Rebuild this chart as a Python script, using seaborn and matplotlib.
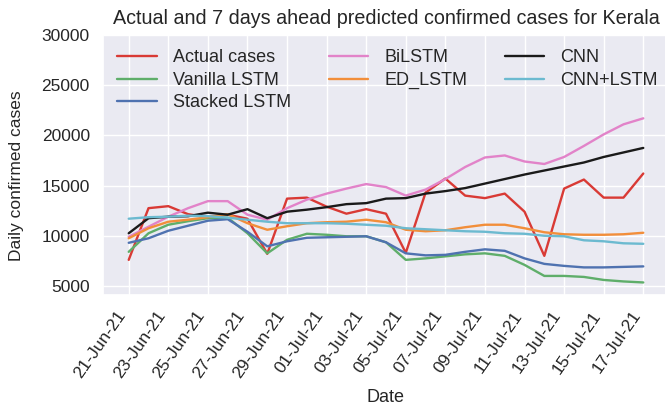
import matplotlib
matplotlib.use("Agg")
import matplotlib.pyplot as plt
import matplotlib.dates as mdates
import numpy as np
import pandas as pd
import seaborn as sns

dates = pd.date_range("2021-06-21", "2021-07-17", freq="D")

actual = [7600, 12750, 12950, 12150, 11850, 12100, 11700, 8200, 13700, 13800, 12900, 12200, 12650,
          12200, 8300, 14300, 15700, 14000, 13750, 14200, 12400, 8000, 14700, 15600, 13800, 13800, 16200]
vanilla = [8400, 10250, 11100, 11450, 11750, 11800, 10250, 8250, 9600, 10200, 10100, 9950, 9950,
           9350, 7600, 7750, 7950, 8150, 8250, 8000, 7100, 6000, 6000, 5900, 5600, 5450, 5350]
stacked = [9300, 9750, 10500, 11000, 11500, 11650, 10400, 8950, 9450, 9800, 9850, 9900, 9950,
           9350, 8250, 8050, 8100, 8400, 8650, 8500, 7750, 7200, 7000, 6850, 6850, 6900, 6950]
bilstm = [9900, 10900, 11900, 12750, 13450, 13450, 12100, 11600, 12750, 13600, 14200, 14700, 15150,
          14850, 14000, 14600, 15650, 16850, 17800, 18000, 17400, 17150, 17850, 18950, 20100, 21100, 21700]
ed_lstm = [9750, 10750, 11400, 11600, 11850, 12150, 11250, 10600, 10950, 11250, 11350, 11400, 11600,
           11350, 10600, 10450, 10550, 10850, 11100, 11100, 10750, 10350, 10150, 10100, 10100, 10150, 10300]
cnn = [10250, 11750, 11900, 11950, 12300, 12100, 12650, 11750, 12400, 12600, 12850, 13150, 13250,
       13700, 13750, 14200, 14450, 14750, 15200, 15650, 16100, 16500, 16900, 17300, 17850, 18300, 18750]
cnn_lstm = [11700, 11850, 11900, 12000, 11950, 11800, 11600, 11400, 11250, 11250, 11250, 11200, 11100,
            11000, 10750, 10650, 10550, 10450, 10400, 10250, 10200, 10000, 9950, 9550, 9450, 9250, 9200]

series_names = ["Actual cases", "Vanilla LSTM", "Stacked LSTM", "BiLSTM", "ED_LSTM", "CNN", "CNN+LSTM"]
series_values = [actual, vanilla, stacked, bilstm, ed_lstm, cnn, cnn_lstm]
colors = ["#d93a35", "#5fae6a", "#4f72b0", "#e283c9", "#f28e3a", "#1a1a1a", "#6cbad0"]

rows = []
for name, vals in zip(series_names, series_values):
    for d, v in zip(dates, vals):
        rows.append({"Date": d, "Cases": v, "Model": name})
df = pd.DataFrame(rows)

sns.set_theme(style="darkgrid")
plt.rcParams["font.family"] = ["Liberation Sans", "DejaVu Sans"]

fig = plt.figure(figsize=(6.65, 4.05), dpi=100)
ax = fig.add_axes([103 / 665, 1 - 295 / 405, 566 / 665, 260 / 405])

sns.lineplot(data=df, x="Date", y="Cases", hue="Model", hue_order=series_names,
             palette=dict(zip(series_names, colors)), linewidth=1.7, ax=ax)

ax.set_ylim(4100, 30000)
ax.set_yticks([5000, 10000, 15000, 20000, 25000, 30000])
ax.xaxis.set_major_locator(mdates.DayLocator(interval=2))
ax.xaxis.set_major_formatter(mdates.DateFormatter("%d-%b-%y"))
plt.setp(ax.get_xticklabels(), rotation=55, ha="right", fontsize=12.5)
plt.setp(ax.get_yticklabels(), fontsize=12.5)
ax.set_xlabel("Date", fontsize=13)
ax.set_ylabel("Daily confirmed cases", fontsize=12.5)
ax.xaxis.set_label_coords(0.5, -0.36)
ax.yaxis.set_label_coords(-0.14, 0.46)
ax.set_title("Actual and 7 days ahead predicted confirmed cases for Kerala", fontsize=14.2, pad=8)

handles, labels = ax.get_legend_handles_labels()
ax.legend(handles, labels, ncol=3, loc="upper left", frameon=False, fontsize=13,
          handlelength=2.2, handletextpad=0.9, columnspacing=2.05, borderaxespad=0.4,
          labelspacing=0.3)

fig.savefig("out.png", dpi=100)
